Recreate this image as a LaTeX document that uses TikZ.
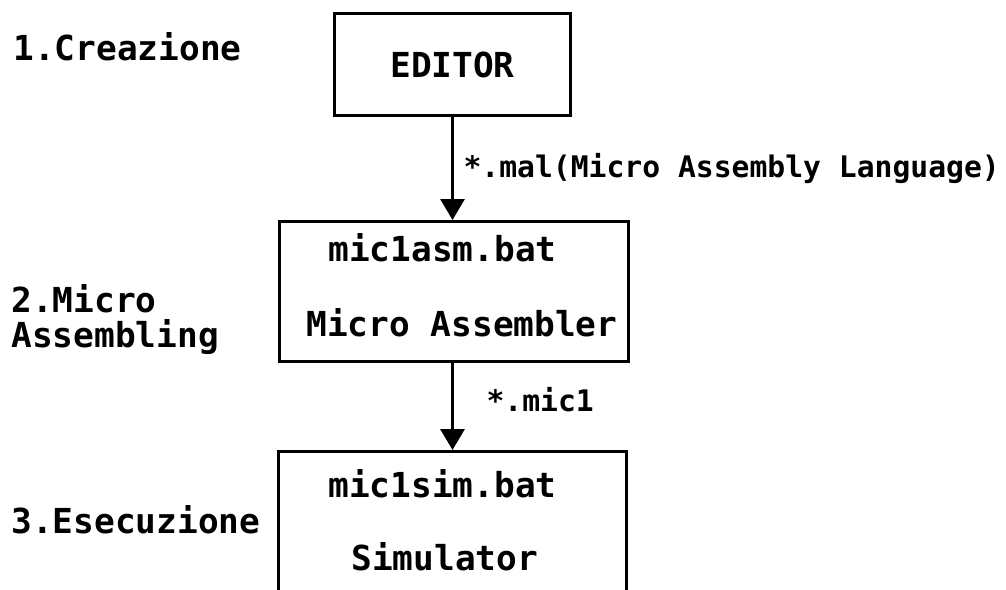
\documentclass[tikz,border=0pt]{standalone}
\usepackage{fontspec}
\setmonofont{DejaVu Sans Mono}
\usetikzlibrary{arrows.meta, positioning}
\tikzset{
  every picture/.style={line width=1.7pt},
  box/.style={draw=black, rectangle, inner sep=0pt},
  txt/.style={font=\fontsize{19.6}{22}\selectfont\ttfamily\bfseries, inner sep=0pt, anchor=base west},
  small/.style={font=\fontsize{16.9}{20}\selectfont\ttfamily\bfseries, inner sep=0pt, anchor=base west},
  arrow/.style={-{Triangle[length=4.2mm, width=4.8mm]}, draw=black, line width=1.7pt},
}

\begin{document}
\begin{tikzpicture}[x=0.02cm, y=-0.02cm]
  \useasboundingbox (0,0) rectangle (1006,590);
  \clip (0,0) rectangle (1006,590);
  % phases on the left
  \node[txt] (crea) at (12,61) {1.Creazione};
  \node[txt] (micro) at (10,313) {2.Micro};
  \node[txt] (assmb) at (10,348) {Assembling};
  \node[txt] (esec) at (10,533) {3.Esecuzione};
  % editor
  \node[box, minimum width=4.72cm, minimum height=2.04cm,
        font=\fontsize{19.6}{22}\selectfont\ttfamily\bfseries] (editor) at (452.5,64.5) {EDITOR};
  % micro assembler
  \node[box, minimum width=6.98cm, minimum height=2.8cm] (asm) at (454,291.5) {};
  \node[txt] (asmbat) at (327,262) {mic1asm.bat};
  \node[txt] (asmname) at (305,337) {Micro Assembler};
  % simulator (runs off the bottom)
  \node[box, minimum width=6.96cm, minimum height=3.97cm] (sim) at (452.5,550.75) {};
  \node[txt] (simbat) at (327,497) {mic1sim.bat};
  \node[txt] (simname) at (350,570) {Simulator};
  % files passed along
  \draw[arrow] (editor.south) -- (editor.south |- asm.north);
  \node[small] (mal) at (462,178) {*.mal(Micro Assembly Language)};
  \draw[arrow] (editor.south |- asm.south) -- (editor.south |- sim.north);
  \node[small] (mic) at (485,412) {*.mic1};
\end{tikzpicture}
\end{document}
